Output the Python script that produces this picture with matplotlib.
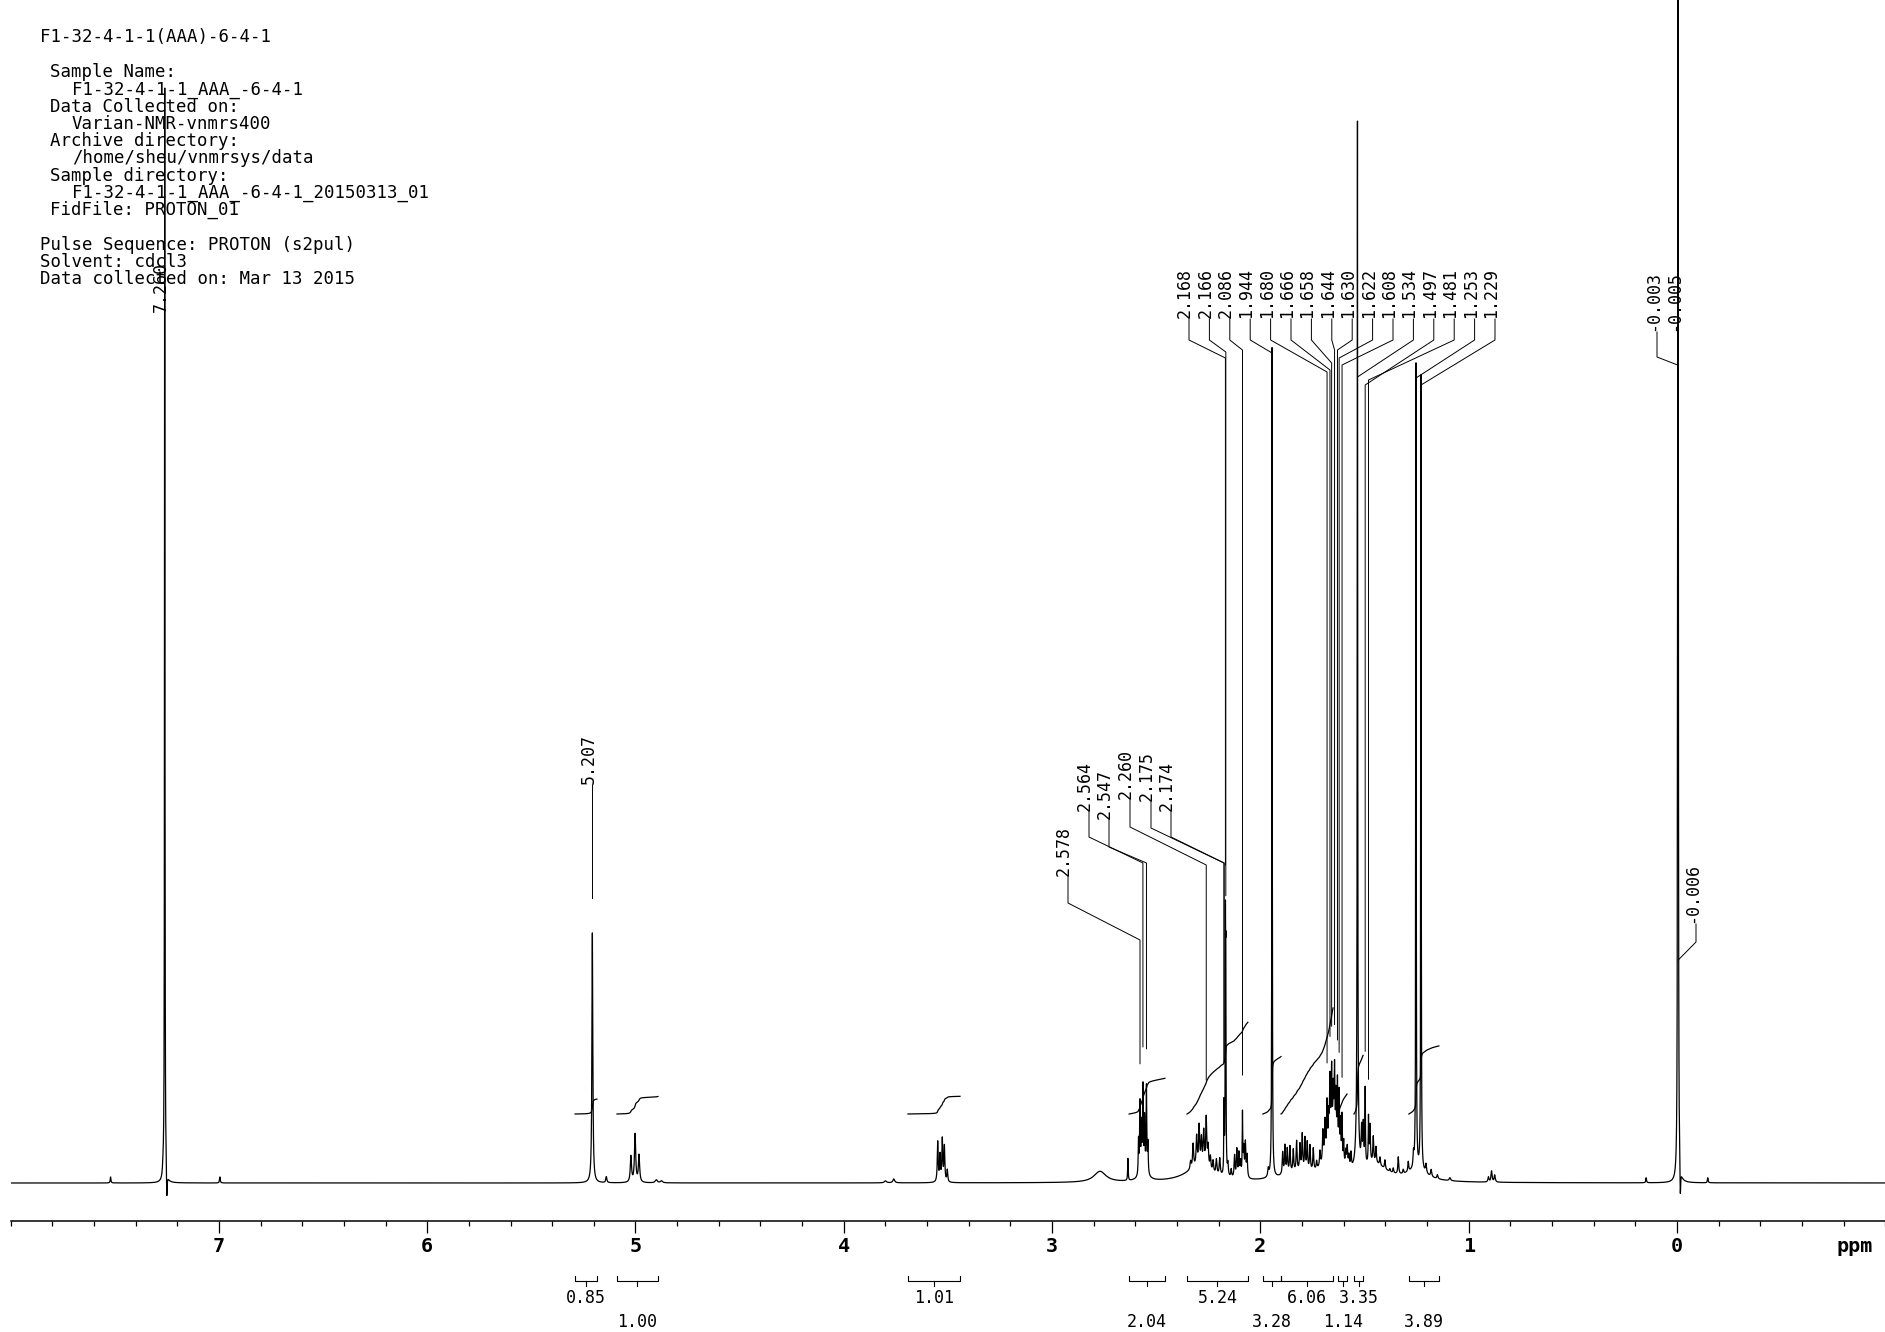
import numpy as np
import matplotlib
matplotlib.use("Agg")
import matplotlib.pyplot as plt
from matplotlib.transforms import offset_copy
from matplotlib.ticker import FixedLocator, FixedFormatter, MultipleLocator

plt.rcParams['font.family'] = ['DejaVu Sans Mono', 'DejaVu Sans']

# ---------------- data ----------------
# sharp lines: chemical shift (ppm), height (px above baseline), half width (ppm)
peak_ppm = [7.520, 7.268, 7.260, 7.250, 6.995,
            5.207, 5.140, 5.022, 5.002, 4.983, 4.900, 4.875,
            3.800, 3.760, 3.549, 3.538, 3.527, 3.517, 3.503,
            2.636, 2.585, 2.578, 2.571, 2.564, 2.556, 2.547, 2.540,
            2.335, 2.323, 2.306, 2.294, 2.283, 2.272, 2.260, 2.251, 2.240, 2.227, 2.211, 2.195,
            2.175, 2.174, 2.168, 2.166,
            2.156, 2.140, 2.124, 2.113, 2.103, 2.095, 2.086, 2.080, 2.072, 2.064,
            1.962, 1.944,
            1.893, 1.882, 1.871, 1.858, 1.842, 1.826, 1.810, 1.799, 1.786, 1.775, 1.762, 1.746, 1.730,
            1.714, 1.700, 1.690, 1.680, 1.672, 1.666, 1.658, 1.650, 1.644, 1.637, 1.630, 1.622,
            1.615, 1.608, 1.600, 1.590, 1.583, 1.575, 1.565,
            1.534, 1.514, 1.506, 1.497, 1.481, 1.474, 1.458, 1.445, 1.426, 1.402, 1.378, 1.362,
            1.338, 1.314, 1.290, 1.265, 1.253, 1.229, 1.205, 1.180, 1.150, 1.090,
            0.905, 0.890, 0.875, 0.148,
            -0.003, -0.005, -0.006, -0.016, -0.148]
peak_height = [6, 8, 1095, -28, 6,
               250, 6, 26, 48, 27, 3, 2,
               2, 4, 40, 26, 42, 35, 12,
               22, 35, 70, 45, 82, 50, 85, 30,
               8, 24, 30, 40, 27, 35, 50, 22, 14, 12, 15, 17,
               40, 40, 225, 180,
               12, 8, 22, 28, 24, 15, 62, 28, 34, 22,
               8, 830,
               22, 28, 24, 26, 22, 30, 26, 36, 32, 28, 25, 22, 8,
               15, 30, 35, 45, 25, 55, 60, 40, 65, 45, 65, 60,
               35, 45, 22, 15, 20, 12, 15,
               1010, 35, 40, 75, 45, 38, 26, 16, 8, 9, 3, 5,
               17, 4, 10, 14, 805, 795, 9, 7, 4, 3,
               5, 11, 7, 5,
               300, 1400, 200, -32, 5]
peak_width = [0.002, 0.003, 0.0012, 0.002, 0.002,
              0.0025, 0.003, 0.0035, 0.0035, 0.0035, 0.006, 0.006,
              0.006, 0.005, 0.0025, 0.0025, 0.0025, 0.0025, 0.0025,
              0.0015, 0.0018, 0.0018, 0.0018, 0.0018, 0.0018, 0.0018, 0.0018,
              0.003, 0.003, 0.003, 0.003, 0.003, 0.003, 0.003, 0.003, 0.003, 0.003, 0.003, 0.003,
              0.0012, 0.0012, 0.0012, 0.0012,
              0.0025, 0.0025, 0.0025, 0.0025, 0.0025, 0.0025, 0.0015, 0.0025, 0.0025, 0.0025,
              0.003, 0.0012,
              0.0025, 0.0025, 0.0025, 0.0025, 0.0025, 0.0025, 0.0025, 0.0025, 0.0025, 0.0025,
              0.0025, 0.0025, 0.0025,
              0.0025, 0.0025, 0.0025, 0.0018, 0.0018, 0.0018, 0.0018, 0.0018, 0.0018, 0.0018,
              0.0018, 0.0018, 0.0018, 0.0018, 0.0018, 0.0025, 0.0025, 0.0025, 0.0025,
              0.0012, 0.0025, 0.0025, 0.0015, 0.0015, 0.0025, 0.0025, 0.0025, 0.0025, 0.0025,
              0.0025, 0.0025,
              0.0025, 0.0025, 0.0025, 0.0025, 0.0012, 0.0012, 0.003, 0.003, 0.003, 0.004,
              0.003, 0.003, 0.003, 0.002,
              0.0012, 0.0012, 0.0012, 0.002, 0.002]
# broad envelopes under the multiplets
hump_ppm = [2.770, 2.560, 2.300, 1.820, 1.655, 1.535, 1.450, 1.250]
hump_height = [11, 10, 14, 8, 50, 40, 16, 10]
hump_width = [0.035, 0.02, 0.08, 0.10, 0.03, 0.008, 0.07, 0.06]

upper_labels = ["2.168", "2.166", "2.086", "1.944", "1.680", "1.666", "1.658", "1.644",
                "1.630", "1.622", "1.608", "1.534", "1.497", "1.481", "1.253", "1.229"]
lower_labels = ["2.578", "2.564", "2.547", "2.260", "2.175", "2.174"]
single_labels = ["7.260", "5.207", "-0.003", "-0.005", "-0.006"]

integral_values = [0.85, 1.00, 1.01, 2.04, 5.24, 3.28, 6.06, 1.14, 3.35, 3.89]
integral_from = [5.290, 5.089, 3.692, 2.630, 2.352, 1.988, 1.901, 1.627, 1.551, 1.287]
integral_to = [5.185, 4.892, 3.442, 2.458, 2.060, 1.901, 1.651, 1.584, 1.507, 1.143]

tick_values = [7, 6, 5, 4, 3, 2, 1, 0]
tick_labels = ["7", "6", "5", "4", "3", "2", "1", "0"]

header_lines = ["F1-32-4-1-1(AAA)-6-4-1",
                "Sample Name:", "F1-32-4-1-1_AAA_-6-4-1",
                "Data Collected on:", "Varian-NMR-vnmrs400",
                "Archive directory:", "/home/sheu/vnmrsys/data",
                "Sample directory:", "F1-32-4-1-1_AAA_-6-4-1_20150313_01",
                "FidFile: PROTON_01",
                "Pulse Sequence: PROTON (s2pul)", "Solvent: cdcl3",
                "Data collected on: Mar 13 2015"]

# ---------------- layout ----------------
W, H, DPI = 1885, 1332, 100
BASE = 1183          # baseline row (px from top)
AX_Y = 1221          # ppm scale line row
X0 = 1677            # column of 0 ppm
PPX = 208.3          # px per ppm
GAP = 35             # gap between label line and peak top


def px2ppm(x):
    return (X0 - x) / PPX


def yd(y_px):
    return BASE - y_px


header_pos = [(40, 37), (50, 72), (72, 90), (50, 107), (72, 124), (50, 141), (72, 158),
              (50, 176), (72, 193), (50, 210), (40, 245), (40, 262), (40, 279)]

fig = plt.figure(figsize=(W / DPI, H / DPI), dpi=DPI)
left_px = X0 - 8.0 * PPX
right_px = X0 + 1.0 * PPX
ax = fig.add_axes([left_px / W, (H - AX_Y) / H, (right_px - left_px) / W, AX_Y / H])
ax.set_xlim(8.0, -1.0)
ax.set_ylim(-(AX_Y - BASE), BASE)
ax.patch.set_visible(False)

# spectrum
grid = np.arange(-1.0, 8.0, 0.0002)
spec = np.zeros_like(grid)
for p, h, w in zip(peak_ppm, peak_height, peak_width):
    spec += h / (1.0 + ((grid - p) / w) ** 2)
for p, h, w in zip(hump_ppm, hump_height, hump_width):
    spec += h / (1.0 + ((grid - p) / w) ** 2)
ax.plot(grid, spec, color='black', lw=0.9)

# integrals
INT_BASE, INT_UNIT = 69, 17.5
for i, (v, a, b) in enumerate(zip(integral_values, integral_from, integral_to)):
    m = (grid <= a) & (grid >= b)
    g = grid[m][::-1]
    s = spec[m][::-1]
    cum = np.concatenate([[0.0], np.cumsum(0.5 * (s[1:] + s[:-1]) * np.abs(np.diff(g)))])
    ax.plot(g, INT_BASE + v * INT_UNIT * cum / cum[-1], color='black', lw=0.9)
    # bracket under the scale
    yb = yd(1281)
    ax.plot([a, a, b, b], [yd(1276), yb, yb, yd(1276)], color='black', lw=0.8, clip_on=False)
    c = 0.5 * (a + b)
    ax.plot([c, c], [yb, yd(1286)], color='black', lw=0.8, clip_on=False)
    row = 1298 if i % 2 == 0 else 1322
    ax.text(c, yd(row), f"{v:.2f}", ha='center', va='center', fontsize=12, clip_on=False)

# peak labels with leader lines
text_tr = offset_copy(ax.transData, fig=fig, x=-4, y=0, units='dots')


def peak_label(text, lx, bottom, knee, diag):
    val = float(text)
    ax.text(lx, yd(bottom) + 1, text, rotation=90, ha='center', va='bottom',
            fontsize=12, transform=text_tr)
    sel = np.abs(grid - val) <= 0.0008
    top = spec[sel].max()
    xs = [lx, lx, val]
    ys = [yd(bottom), yd(knee), yd(diag)]
    if top + GAP < yd(diag):
        xs.append(val)
        ys.append(top + GAP)
    ax.plot(xs, ys, color='black', lw=0.7)


upper_diag = [358, 352, 350, 353, 372, 370, 363, 350, 350, 358, 365, 377, 385, 380, 378, 385]
for i, t in enumerate(upper_labels):
    peak_label(t, px2ppm(1189 + 20.4 * i), 319, 340, upper_diag[i])

lower_x = [1068, 1089, 1109, 1130, 1151, 1171]
lower_bottom = [877, 812, 820, 800, 802, 812]
lower_knee = [903, 837, 847, 827, 828, 837]
lower_diag = [940, 863, 863, 865, 863, 863]
for i, t in enumerate(lower_labels):
    peak_label(t, px2ppm(lower_x[i]), lower_bottom[i], lower_knee[i], lower_diag[i])

single_x = [7.260, 5.207, px2ppm(1657), -0.005, px2ppm(1696)]
single_bottom = [313, 785, 332, 332, 924]
single_knee = [313, 785, 357, 332, 942]
single_diag = [313, 785, 365, 332, 960]
for i, t in enumerate(single_labels):
    peak_label(t, single_x[i], single_bottom[i], single_knee[i], single_diag[i])

# ppm scale
for s in ['top', 'left', 'right']:
    ax.spines[s].set_visible(False)
ax.spines['bottom'].set_linewidth(1.1)
ax.yaxis.set_visible(False)
ax.xaxis.set_major_locator(FixedLocator(tick_values))
ax.xaxis.set_major_formatter(FixedFormatter(tick_labels))
ax.xaxis.set_minor_locator(MultipleLocator(0.2))
ax.tick_params(axis='x', which='major', direction='out', length=8.4, width=0.9, pad=3,
               labelsize=14.5)
ax.tick_params(axis='x', which='minor', direction='out', length=3.6, width=0.9)
for lab in ax.get_xticklabels():
    lab.set_fontweight('bold')
ax.text(px2ppm(1855), 0, 'ppm', ha='center', va='top', fontsize=14.5, fontweight='bold',
        transform=offset_copy(ax.get_xaxis_transform(), fig=fig, y=-(8.4 + 3), units='points'))

# header block
for s, (x, y) in zip(header_lines, header_pos):
    fig.text(x / W, 1 - y / H, s, ha='left', va='center', fontsize=12.5)

fig.savefig('out.png', dpi=DPI)
